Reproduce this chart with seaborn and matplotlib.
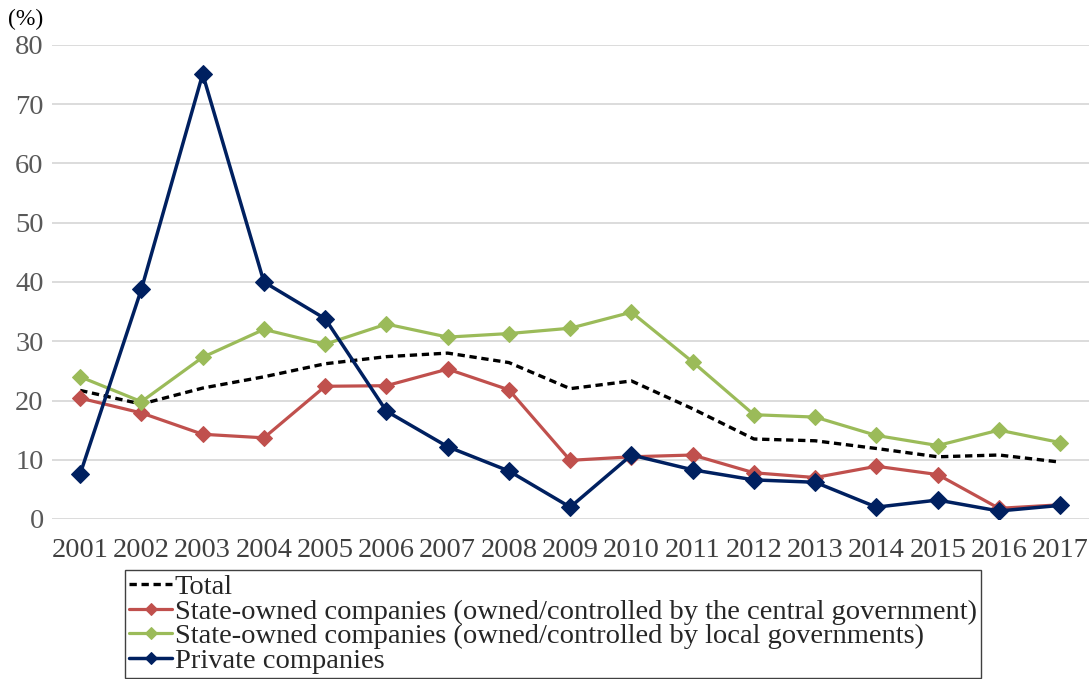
import numpy as np
import pandas as pd
import matplotlib
matplotlib.use("Agg")
import matplotlib.pyplot as plt
import seaborn as sns

years = list(range(2001, 2018))
total = [21.7, 19.4, 22.1, 24.0, 26.2, 27.4, 28.0, 26.4, 22.0, 23.3, 18.6, 13.5, 13.2, 11.9, 10.5, 10.8, 9.6]
central = [20.4, 17.9, 14.3, 13.7, 22.4, 22.5, 25.3, 21.8, 9.9, 10.5, 10.8, 7.8, 7.0, 8.9, 7.5, 1.8, 2.4]
local = [24.0, 19.8, 27.3, 32.0, 29.5, 32.9, 30.7, 31.3, 32.2, 34.9, 26.5, 17.6, 17.2, 14.1, 12.4, 15.0, 12.9]
private = [7.6, 38.8, 75.1, 40.0, 33.8, 18.2, 12.2, 8.1, 2.0, 10.8, 8.3, 6.6, 6.2, 2.0, 3.2, 1.35, 2.3]

labels = [
    "Total",
    "State-owned companies (owned/controlled by the central government)",
    "State-owned companies (owned/controlled by local governments)",
    "Private companies",
]

sns.set_style("white")
plt.rcParams['font.family'] = ['Liberation Serif', 'DejaVu Serif']

fig = plt.figure(figsize=(10.89, 6.79), dpi=100)
ax = fig.add_axes([52 / 1089, 1 - 519 / 679, 1 - 52 / 1089, (519 - 45) / 679])

sns.lineplot(x=years, y=total, ax=ax, color='black', linestyle=(0, (2.2, 1.4)),
             linewidth=2.4, label=labels[0])
sns.lineplot(x=years, y=central, ax=ax, color='#C0504D', marker='D', markersize=8.5,
             markeredgecolor='#C0504D', linewidth=2.3, label=labels[1])
sns.lineplot(x=years, y=local, ax=ax, color='#9BBB59', marker='D', markersize=8.5,
             markeredgecolor='#9BBB59', linewidth=2.3, label=labels[2])
sns.lineplot(x=years, y=private, ax=ax, color='#002060', marker='D', markersize=9.5,
             markeredgecolor='#002060', linewidth=2.5, label=labels[3])

ax.set_ylim(0, 80)
ax.set_xlim(2000.54, 2017.47)
ax.set_xticks(years)
ax.set_yticks(range(0, 81, 10))
ax.yaxis.grid(True, color='#d9d9d9', linewidth=1.3)
ax.xaxis.grid(False)
for s in ax.spines.values():
    s.set_visible(False)
ax.tick_params(axis='x', length=0, pad=14, labelsize=20.5, labelcolor='#404040')
ax.tick_params(axis='y', length=0, pad=6, labelsize=20.5, labelcolor='#595959')
ax.set_xlabel('')
ax.set_ylabel('')

fig.text(8 / 1089, 1 - 19 / 679, '(%)', fontsize=17, va='center', ha='left', color='black')

leg = ax.legend(loc='upper left', bbox_to_anchor=(125 / 1089, 1 - 570 / 679),
                bbox_transform=fig.transFigure, fontsize=20.5, frameon=True,
                fancybox=False, edgecolor='#404040', framealpha=1,
                handlelength=1.5, handletextpad=0.1, labelspacing=-0.05,
                borderpad=0.15, borderaxespad=0)
leg.get_frame().set_linewidth(1.0)
for h in leg.legend_handles:
    h.set_markersize(6)

fig.savefig('out.png', dpi=100)
